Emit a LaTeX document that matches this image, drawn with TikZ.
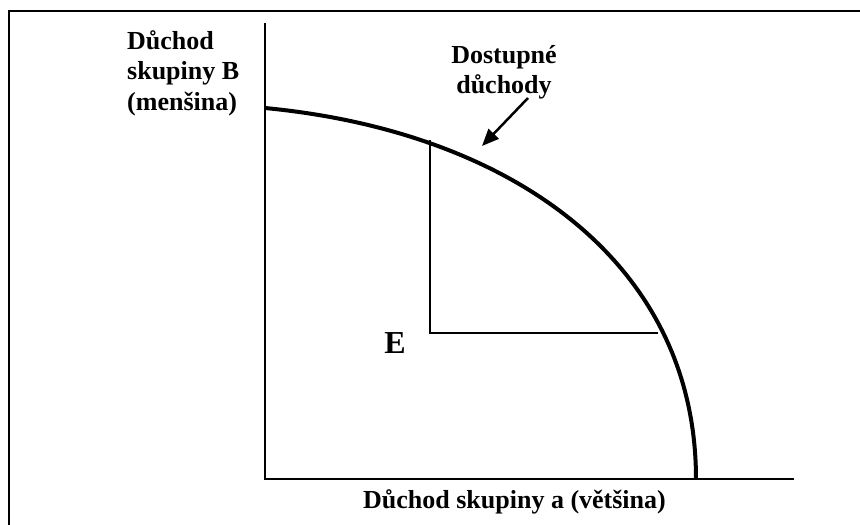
\documentclass[tikz,border=0pt]{standalone}
\usepackage{fontspec}
\setmainfont{Liberation Serif}
\usetikzlibrary{arrows.meta}
\begin{document}
\begin{tikzpicture}[x=1pt,y=-1pt,
  lbl/.style={font=\bfseries\fontsize{26}{30.5}\selectfont, inner sep=0pt},
  axis/.style={line width=2pt},
  frontier/.style={line width=4pt},
  guide/.style={line width=2pt},
  pointer/.style={line width=2.5pt,-{Triangle[length=17pt,width=14pt]}}]
\useasboundingbox (0,0) rectangle (860,525);
\clip (0,0) rectangle (860,525);
\draw[line width=2.5pt] (9,11) rectangle (900,560);

\coordinate (O) at (265,479);
\coordinate (Ytop) at (265,23);
\coordinate (Xend) at (794,479);
\draw[axis] (Ytop) -- (O) -- (Xend);

\coordinate (A) at (265,108);
\coordinate (B) at (696,479);
\draw[frontier] (A) .. controls (515,132) and (696,265) .. (B);

\coordinate (E1) at (430,140);
\coordinate (Ecorner) at (430,333);
\coordinate (E2) at (658,333);
\draw[guide] (E1) -- (Ecorner) -- (E2);

\node[lbl, anchor=base, font=\bfseries\fontsize{32}{36}\selectfont] (elabel) at (395,353) {E};

\node[lbl, align=left, anchor=north west] (ylabel) at (127,30) {Důchod\\skupiny B\\(menšina)};

\node[lbl, anchor=base] (xlabel) at (514.5,508) {Důchod skupiny a (většina)};

\node[lbl, align=center, anchor=north] (avail) at (504,45) {Dostupné\\důchody};

\coordinate (tail) at (528,98);
\coordinate (tip) at (482,146);
\draw[pointer] (tail) -- (tip);
\end{tikzpicture}
\end{document}
